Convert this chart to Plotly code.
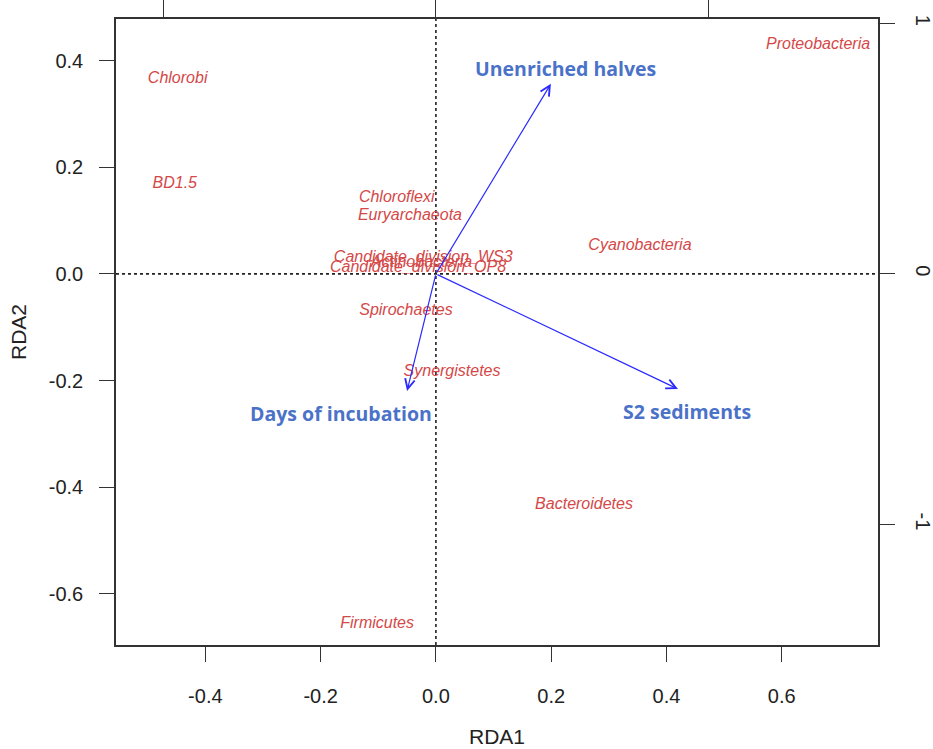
import plotly.graph_objects as go

# Species scores (RDA1, RDA2)
species = ["Proteobacteria", "Chlorobi", "BD1.5", "Chloroflexi", "Euryarchaeota",
           "Cyanobacteria", "Candidate_division_WS3", "Actinobacteria",
           "Candidate_division_OP8", "Spirochaetes", "Synergistetes",
           "Bacteroidetes", "Firmicutes"]
sp_x = [0.663, -0.448, -0.453, -0.068, -0.045, 0.354, -0.022, -0.025, -0.031,
        -0.052, 0.028, 0.257, -0.102]
sp_y = [0.430, 0.366, 0.169, 0.143, 0.109, 0.053, 0.030, 0.021, 0.011,
        -0.069, -0.184, -0.433, -0.657]

# Environmental vectors (arrow tips, in RDA1/RDA2 units)
env_names = ["Unenriched halves", "S2 sediments", "Days of incubation"]
env_x = [0.1995, 0.420, -0.050]
env_y = [0.3565, -0.216, -0.2195]
env_lab_x = [0.224, 0.435, -0.165]
env_lab_y = [0.386, -0.259, -0.261]

x_ticks = [-0.4, -0.2, 0.0, 0.2, 0.4, 0.6]
y_ticks = [-0.6, -0.4, -0.2, 0.0, 0.2, 0.4]
sec_ticks = [-1, 0, 1]

x_range = [-0.555, 0.767]
y_range = [-0.696, 0.478]
sx = 2.116
sy = 2.128

fig = go.Figure()

fig.add_trace(go.Scatter(
    x=sp_x, y=sp_y, mode="text", text=species,
    textposition="middle center",
    textfont=dict(family="Liberation Sans, Arial", size=16, color="#d44848",
                  style="italic"),
    showlegend=False, hoverinfo="skip"))

# invisible trace for secondary axes
fig.add_trace(go.Scatter(x=[0], y=[0], xaxis="x2", yaxis="y2", mode="markers",
                         marker=dict(opacity=0), showlegend=False, hoverinfo="skip"))

# dotted zero lines
fig.add_shape(type="line", xref="x", yref="paper", x0=0, x1=0, y0=0, y1=1,
              line=dict(color="#222", width=1.6, dash="dot"), layer="below")
fig.add_shape(type="line", xref="paper", yref="y", x0=0, x1=1, y0=0, y1=0,
              line=dict(color="#222", width=1.6, dash="dot"), layer="below")

for n, ex, ey, lx, ly in zip(env_names, env_x, env_y, env_lab_x, env_lab_y):
    fig.add_annotation(x=ex, y=ey, ax=0, ay=0, xref="x", yref="y",
                       axref="x", ayref="y", showarrow=True, arrowhead=5,
                       arrowsize=1.6, arrowwidth=1.2, arrowcolor="#2a2aff", text="")
    fig.add_annotation(x=lx, y=ly, xref="x", yref="y", text="<b>%s</b>" % n,
                       showarrow=False,
                       font=dict(family="Open Sans, Lato", size=19.5, color="#4a72c8"))

fig.add_annotation(x=0.5, y=0, xref="paper", yref="paper", text="RDA1",
                   showarrow=False, yanchor="middle", yshift=-91,
                   font=dict(family="Liberation Sans, Arial", size=21, color="#222"))
fig.add_annotation(x=0, y=0.5, xref="paper", yref="paper", text="RDA2",
                   showarrow=False, xanchor="center", xshift=-98, textangle=-90,
                   font=dict(family="Liberation Sans, Arial", size=21, color="#222"))

axis_common = dict(showgrid=False, zeroline=False, showline=True, linecolor="#333",
                   linewidth=1.5, ticks="outside", tickcolor="#333", tickwidth=1.3,
                   automargin=False,
                   tickfont=dict(family="Liberation Sans, Arial", size=20, color="#222"))

fig.update_layout(
    width=933, height=749,
    margin=dict(l=116, r=55, t=19, b=104),
    paper_bgcolor="white", plot_bgcolor="white",
    xaxis=dict(range=x_range, tickvals=x_ticks,
               ticktext=["%.1f" % v for v in x_ticks], ticklen=15,
               ticklabelstandoff=17, **axis_common),
    yaxis=dict(range=y_range, tickvals=y_ticks,
               ticktext=["%.1f" % v for v in y_ticks], ticklen=15,
               ticklabelstandoff=12, **axis_common),
    xaxis2=dict(range=[x_range[0] * sx, x_range[1] * sx], overlaying="x",
                side="top", tickvals=sec_ticks, showticklabels=False,
                ticklen=19, anchor="y2", **axis_common),
    yaxis2=dict(range=[y_range[0] * sy, y_range[1] * sy], overlaying="y",
                side="right", tickvals=sec_ticks,
                ticktext=[str(v) for v in sec_ticks], tickangle=90, ticklen=15,
                ticklabelstandoff=13, anchor="x2", **axis_common),
)

fig.write_html("out.html")
